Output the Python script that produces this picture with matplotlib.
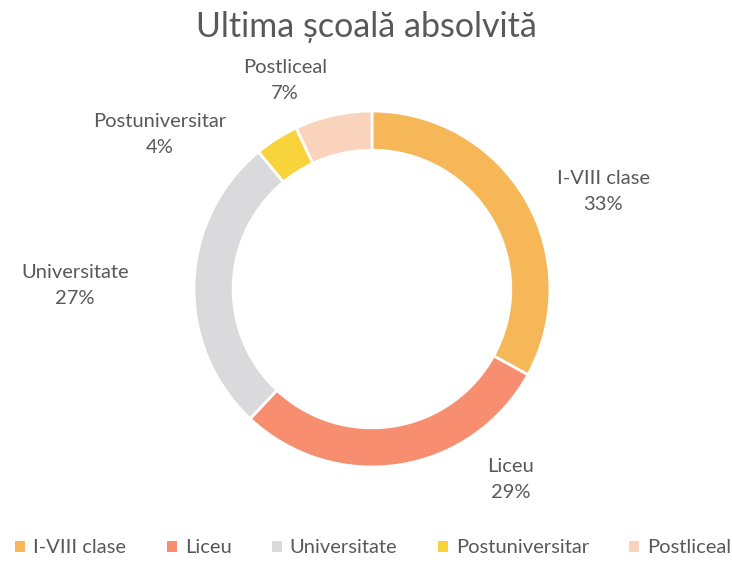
import numpy as np
import matplotlib.pyplot as plt
from matplotlib.patches import Patch

plt.rcParams['font.family'] = ['Lato', 'DejaVu Sans']

categories = ['I-VIII clase', 'Liceu', 'Universitate', 'Postuniversitar', 'Postliceal']
values = [33, 29, 27, 4, 7]
colors = ['#F5B757', '#F88E70', '#DADADC', '#F9D33C', '#FAD3BC']
# label positions (data coords, radius = 1)
label_pos = [(1.3, 0.55), (0.78, -1.07), (-1.67, 0.02), (-1.19, 0.87), (-0.49, 1.17)]

txt = '#595959'

fig = plt.figure(figsize=(7.32, 5.62), dpi=100)
ax = fig.add_axes([0.265, 0.169, 0.4863, 0.6335])
ax.pie(values, colors=colors, startangle=90, counterclock=False, radius=1,
       wedgeprops=dict(width=0.22, edgecolor='white', linewidth=2))
ax.set_xlim(-1, 1)
ax.set_ylim(-1, 1)
ax.set_aspect('equal')

for cat, v, (x, y) in zip(categories, values, label_pos):
    ax.text(x, y, f'{cat}\n{v}%', ha='center', va='center', fontsize=14.5,
            color=txt, linespacing=1.65, clip_on=False)

fig.text(0.5, 0.952, 'Ultima școală absolvită', ha='center', va='center',
         fontsize=24.5, color=txt)

handles = [Patch(facecolor=c, edgecolor='none') for c in colors]
fig.legend(handles, categories, loc='center', bbox_to_anchor=(0.51, 0.025),
           ncol=5, frameon=False, fontsize=14.5, labelcolor=txt,
           handlelength=0.5, handleheight=0.5, handletextpad=0.4, columnspacing=2.0)

plt.savefig('out.png', dpi=100)
